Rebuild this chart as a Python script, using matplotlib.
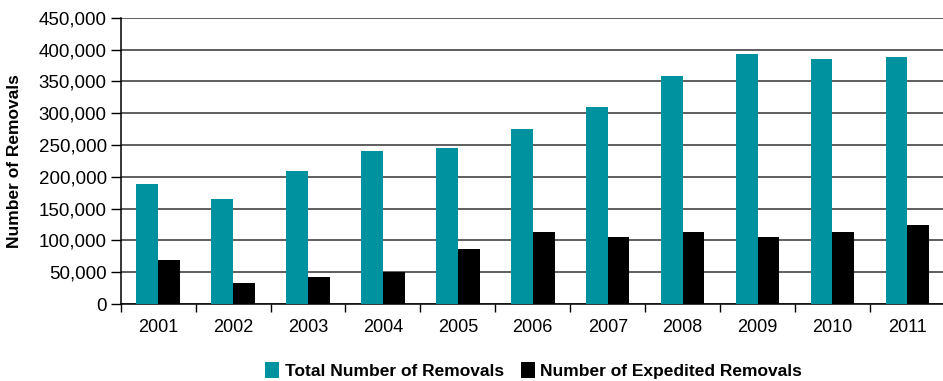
import matplotlib.pyplot as plt
from matplotlib.ticker import FuncFormatter
import numpy as np

plt.rcParams['font.family'] = ['Liberation Sans', 'DejaVu Sans']

# 연도별 추방 건수
years = ['2001', '2002', '2003', '2004', '2005', '2006',
         '2007', '2008', '2009', '2010', '2011']
total_removals = [189000, 165000, 210000, 240000, 246000, 275000,
                  310000, 358000, 394000, 386000, 389000]
expedited_removals = [70000, 33000, 42000, 51000, 86000, 113000,
                      106000, 113000, 106000, 113000, 124000]

teal = '#00929F'

fig = plt.figure(figsize=(9.43, 3.81), dpi=100)
ax = fig.add_axes([0.128, 0.202, 0.874, 0.751])

x = np.arange(len(years))
w = 0.29
ax.bar(x - w / 2, total_removals, w, color=teal, label='Total Number of Removals', zorder=3)
ax.bar(x + w / 2, expedited_removals, w, color='black', label='Number of Expedited Removals', zorder=3)

ax.set_xlim(-0.5, len(years) - 0.5)
ax.set_ylim(0, 450000)
ax.set_yticks(np.arange(0, 450001, 50000))
ax.yaxis.set_major_formatter(FuncFormatter(lambda v, p: f'{int(v):,}'))

# 눈금은 연도 사이 경계에
ax.set_xticks(np.arange(-0.5, len(years), 1.0))
ax.set_xticklabels([])
ax.set_xticks(x, minor=True)
ax.set_xticklabels(years, minor=True, fontsize=13)
ax.tick_params(axis='x', which='major', length=6, width=1, direction='out', color='black')
ax.tick_params(axis='x', which='minor', length=0, pad=11)
ax.tick_params(axis='y', length=7, width=1, labelsize=13.5, pad=3)

ax.grid(axis='y', color='#333333', linewidth=1.1, zorder=0)
for s in ['top', 'right']:
    ax.spines[s].set_visible(False)
ax.spines['left'].set_linewidth(1.1)
ax.spines['bottom'].set_linewidth(1.1)

ax.set_ylabel('Number of Removals', fontsize=12.5, fontweight='bold', labelpad=12)

fig.legend(loc='lower center', bbox_to_anchor=(0.566, -0.035), ncol=2, frameon=False,
           prop={'weight': 'bold', 'size': 12.5}, handlelength=0.8, handleheight=1.0,
           handletextpad=0.3, columnspacing=1.0)

fig.savefig('out.png', dpi=100)
